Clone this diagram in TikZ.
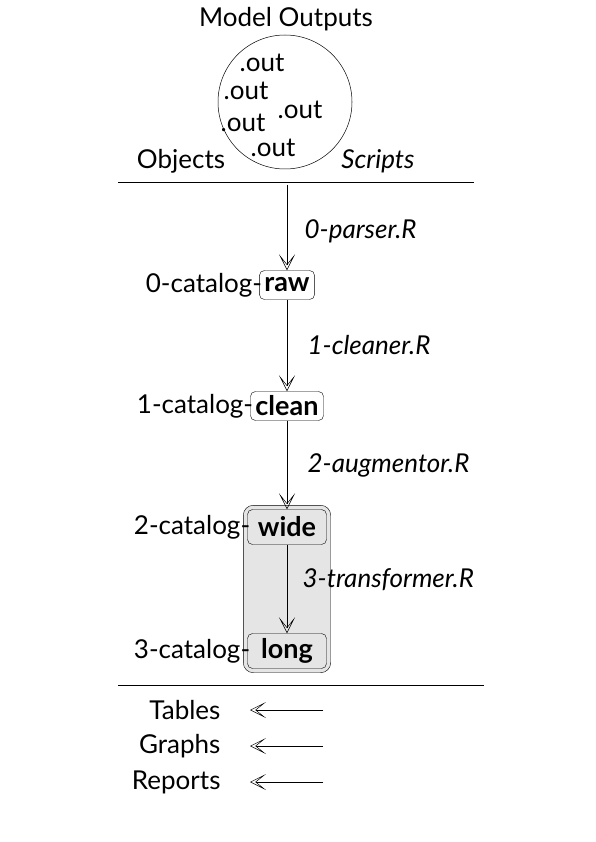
\documentclass[tikz,border=0pt]{standalone}
\usepackage{fontspec}
\setmainfont{Lato}
\usetikzlibrary{arrows.meta,positioning,backgrounds,fit}

\tikzset{
  stage/.style={draw,rounded corners=5pt,fill=white,inner xsep=5pt,inner ysep=1pt,minimum height=29pt,font=\fontsize{27}{31}\selectfont\bfseries},
  tag/.style={inner xsep=0pt,xshift=3pt},
  script/.style={font=\fontsize{26}{30}\selectfont\itshape},
  flow/.style={-{Stealth[open,length=16pt,width=16pt,inset=10pt]},line width=0.5pt},
}

\begin{document}
\begin{tikzpicture}[x=1pt,y=-1pt,font=\fontsize{26}{30}\selectfont]
    \useasboundingbox (0,0) rectangle (595,842);
    % model outputs
    \node (title) at (286,19) {Model Outputs};
    \node[circle,draw,line width=0.5pt,minimum size=134pt] (pool) at (285,102) {};
    \node (out1) at (262,63) {.out};
    \node (out2) at (246,91) {.out};
    \node (out3) at (300,110) {.out};
    \node (out4) at (243,123) {.out};
    \node (out5) at (273,148) {.out};
    \node (objects) at (181,161) {Objects};
    \node[script] (scripts) at (378,161) {Scripts};
    \draw[line width=0.5pt] (118,182) -- (474,182);
    % catalog stages
    \coordinate (start) at (287,185);
    \node[stage] (raw) at (287,285) {raw};
    \node[stage] (clean) at (287,406) {clean};
    \node[stage,fill=gray!20,minimum width=79pt,minimum height=35pt] (wide) at (287,527) {wide};
    \node[stage,fill=gray!20,minimum width=79pt,minimum height=35pt] (long) at (287,651) {long};
    \node[tag,anchor=east] at (raw.west) {0-catalog-};
    \node[tag,anchor=east] at (clean.west) {1-catalog-};
    \node[tag,anchor=east] at (wide.west) {2-catalog-};
    \node[tag,anchor=east] at (long.west) {3-catalog-};
    \begin{scope}[on background layer]
        \node[draw,rounded corners=10pt,fill=gray!20,inner sep=4pt,fit=(wide)(long)] (group) {};
    \end{scope}
    \draw[flow] (start) -- node[script,right=14pt,yshift=-4pt] {0-parser.R} (raw);
    \draw[flow] (raw) -- node[script,right=17pt] {1-cleaner.R} (clean);
    \draw[flow] (clean) -- node[script,right=17pt] {2-augmentor.R} (wide);
    \draw[flow] (wide) -- node[script,right=12pt,yshift=9pt] {3-transformer.R} (long);
    \draw[line width=0.5pt] (118,685) -- (484,685);
    % products
    \foreach \name/\y in {Tables/710,Graphs/746,Reports/782}{
        \node[anchor=east] (\name) at (224,\y) {\name};
        \coordinate (\name-src) at (323,\y);
        \draw[flow] (\name-src) -- ([xshift=26pt]\name.east);
    }
\end{tikzpicture}
\end{document}
